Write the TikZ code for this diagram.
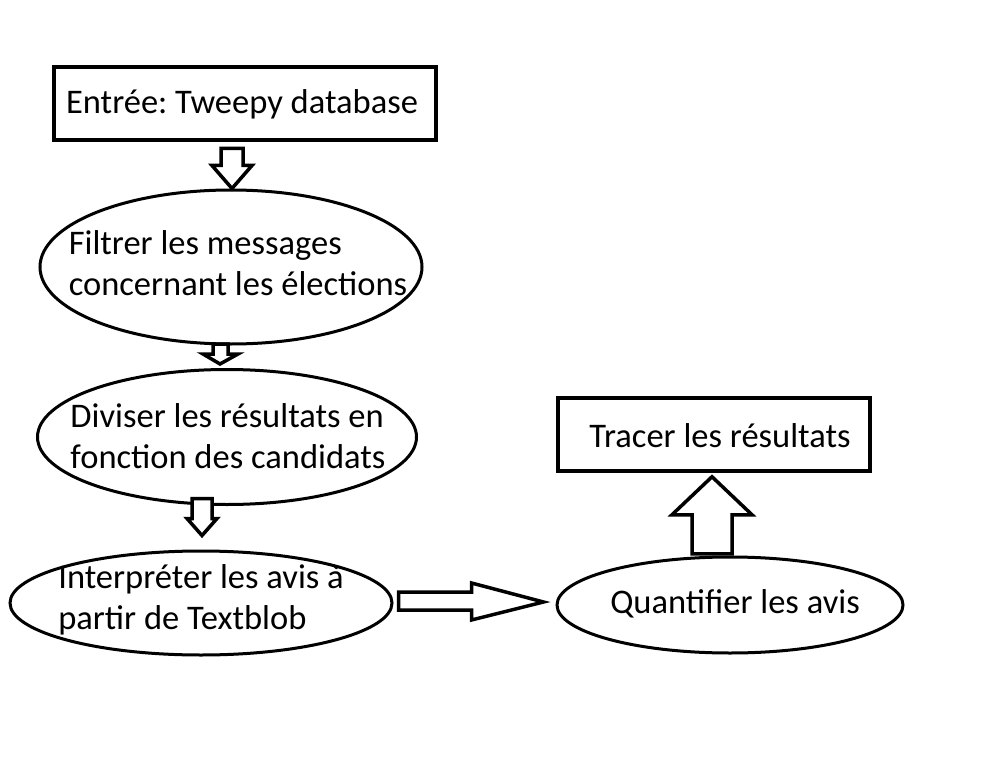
\documentclass[tikz,border=0pt]{standalone}
\usepackage{fontspec}
\setmainfont{Carlito}
\usepackage{tikz}
\usetikzlibrary{calc,shapes.geometric}

\tikzset{
  box/.style={draw, line width=3.5pt, inner sep=0pt},
  oval/.style={draw, ellipse, line width=3pt, inner sep=0pt},
  txt/.style={align=left, inner sep=0pt, font=\fontsize{34.5}{41}\selectfont\frenchspacing},
  blockarrow/.style={draw, line width=3.5pt, line join=miter, fill=white}
}

\begin{document}
\begin{tikzpicture}[x=1pt,y=-1pt]
\useasboundingbox (0,0) rectangle (985,770);
% boxes
\node[box, minimum width=382, minimum height=73] (entree) at (245,103.5) {};
\node[txt] (entreetxt) at (242,104) {Entrée: Tweepy database};
\node[box, minimum width=312, minimum height=73] (tracer) at (714,434.5) {};
\node[txt] (tracertxt) at (720,436) {Tracer les résultats};
% ovals
\node[oval, minimum width=382, minimum height=154] (filtrer) at (231,267) {};
\node[txt] (filtrertxt) at (238,263) {Filtrer les messages\\concernant les élections};
\node[oval, minimum width=379, minimum height=135] (diviser) at (227,437) {};
\node[txt] (divisertxt) at (228,436) {Diviser les résultats en\\fonction des candidats};
\node[oval, minimum width=382, minimum height=104] (interpreter) at (201,603) {};
\node[txt] (interpretertxt) at (201,600) {Interpréter les avis à\\partir de Textblob};
\node[oval, minimum width=346, minimum height=96] (quantifier) at (730,605) {};
\node[txt] (quantifiertxt) at (735,604) {Quantifier les avis};
% block arrows
\draw[blockarrow] ($(filtrer.north)+(1,0)$) -- ++(-20,-23) -- ++(9,0) -- ++(0,-17)
  -- ++(22,0) -- ++(0,17) -- ++(9,0) -- cycle;
\draw[blockarrow] ($(diviser.north)+(-7,-4)$) -- ++(-17,-10) -- ++(10,0) -- ++(0,-10)
  -- ++(15,0) -- ++(0,10) -- ++(10,0) -- cycle;
\draw[blockarrow] ($(interpreter.north)+(1,-14)$) -- ++(-15,-17) -- ++(5,0) -- ++(0,-20)
  -- ++(20,0) -- ++(0,20) -- ++(5,0) -- cycle;
\draw[blockarrow] ($(quantifier.west)+(-12,-3)$) -- ++(-72,-19) -- ++(0,9) -- ++(-73,0)
  -- ++(0,18) -- ++(73,0) -- ++(0,10) -- cycle;
\draw[blockarrow] ($(tracer.south)+(-2,4)$) -- ++(40,38) -- ++(-20,0) -- ++(0,39)
  -- ++(-40,0) -- ++(0,-39) -- ++(-20,0) -- cycle;
\end{tikzpicture}
\end{document}
